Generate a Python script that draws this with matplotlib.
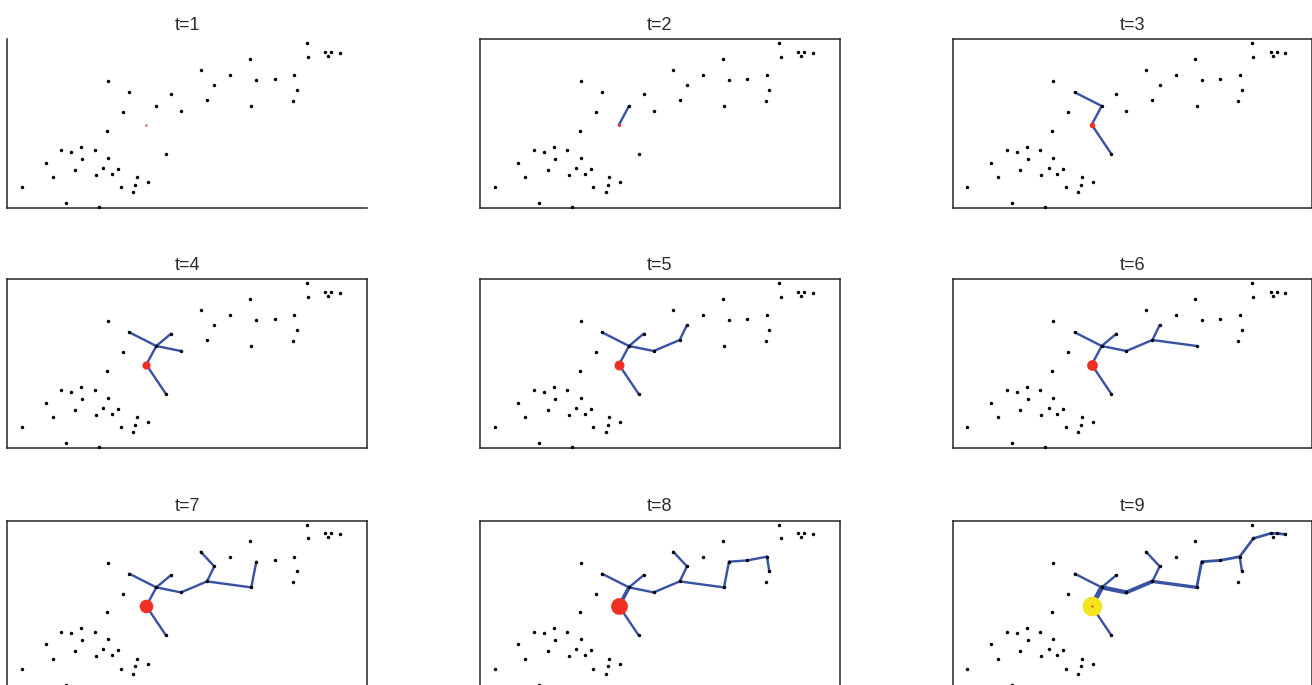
import matplotlib
matplotlib.use("Agg")
import matplotlib.pyplot as plt
import numpy as np

# ---- data ----
pts_x = [299.3, 300.7, 318.0, 320.7, 324.0, 332.7, 242.7, 193.3, 223.0, 249.0,
         267.3, 287.0, 289.3, 285.7, 244.0, 207.0, 199.7, 100.7, 122.0, 163.7,
         149.0, 173.7, 115.7, 139.0, 99.7, 54.0, 64.0, 74.0, 87.3, 75.0,
         100.7, 38.3, 158.7, 67.7, 96.0, 110.7, 45.3, 88.7, 104.7, 129.3,
         128.0, 140.3, 113.3, 125.7, 14.7, 59.0, 92.0]
pts_y = [164.7, 151.0, 156.0, 152.3, 156.0, 155.0, 148.7, 137.7, 132.7, 127.7,
         129.0, 132.7, 118.0, 107.0, 102.0, 123.0, 108.0, 126.7, 115.7, 114.3,
         102.0, 97.0, 95.7, 83.3, 77.3, 57.7, 56.3, 61.3, 57.7, 49.0,
         50.3, 45.3, 54.0, 38.0, 40.3, 39.3, 30.7, 33.0, 34.3, 30.7,
         23.0, 25.7, 20.7, 15.7, 20.7, 4.7, 1.0]
root = 24  # 1-based index of the seed point

# edges (1-based point indices) and the step at which each edge appears
edge_from = [24, 21, 24, 21, 21, 22, 17, 17, 16, 15, 10, 11, 12, 12, 2, 3, 5]
edge_to   = [21, 19, 33, 20, 22, 17, 16, 15, 8, 10, 11, 12, 13, 2, 3, 5, 6]
edge_step = [2, 3, 3, 4, 4, 5, 5, 6, 7, 7, 8, 8, 8, 9, 9, 9, 9]
# edge widths (px) at the final step t=9
edge_w9 = [5.0, 2.4, 2.4, 2.4, 4.3, 3.9, 2.4, 3.3, 2.4, 2.8, 2.8, 2.8, 2.4, 2.7, 2.7, 2.7, 2.7]
edge_w8_root = 3.8

steps = [1, 2, 3, 4, 5, 6, 7, 8, 9]
seed_radius = [1.1, 1.6, 2.8, 4.1, 5.0, 5.4, 6.8, 8.4, 9.8]  # px

W, H = 1312, 685
fig = plt.figure(figsize=(W / 100, H / 100), dpi=100)

col_left = [7.3, 480.0, 952.7]
row_top = [39.3, 279.3, 520.7]
aw, ah = 359.5, 168.7

BLUE = "#3953a4"
RED = "#ee3124"
YEL = "#f2e51d"
px2pt = 0.72

xs = np.array(pts_x)
ys = np.array(pts_y)

for i, t in enumerate(steps):
    r, c = divmod(i, 3)
    ax = fig.add_axes([col_left[c] / W, 1 - (row_top[r] + ah) / H, aw / W, ah / H])
    ax.set_xlim(0, aw)
    ax.set_ylim(0, ah)
    ax.set_xticks([])
    ax.set_yticks([])
    for s in ax.spines.values():
        s.set_color("#262626")
        s.set_linewidth(1.1)
    if i == 0:
        ax.spines["top"].set_visible(False)
        ax.spines["right"].set_visible(False)
    ax.set_title(f"t={t}", fontsize=13, color="#2b2b2b", pad=7,
                 family=["Liberation Sans", "DejaVu Sans"])

    # edges
    for k in range(len(edge_from)):
        if edge_step[k] > t:
            continue
        a, b = edge_from[k] - 1, edge_to[k] - 1
        if t == 9:
            w = edge_w9[k]
        elif t == 8 and k == 0:
            w = edge_w8_root
        else:
            w = 2.4
        ax.plot([xs[a], xs[b]], [ys[a], ys[b]], color=BLUE, lw=w * px2pt,
                solid_capstyle="round", zorder=2)

    mask = np.ones(len(xs), bool)
    mask[root - 1] = False
    ax.plot(xs[mask], ys[mask], "o", color="black", ms=2.5, mew=0, zorder=3,
            clip_on=False)

    rr = seed_radius[i]
    if t == 9:
        ax.plot(xs[root - 1], ys[root - 1], "o", color=YEL, ms=2 * rr * px2pt,
                mew=0, zorder=4)
        ax.plot(xs[root - 1], ys[root - 1], "o", color=RED, ms=2.2 * px2pt,
                mew=0, zorder=5)
    else:
        ax.plot(xs[root - 1], ys[root - 1], "o", color=RED, ms=2 * rr * px2pt,
                mew=0, zorder=4)

fig.savefig("out.png", dpi=100)
